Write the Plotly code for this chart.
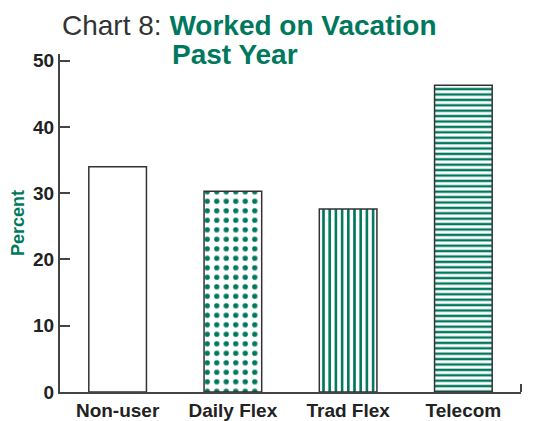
import plotly.graph_objects as go

categories = ["Non-user", "Daily Flex", "Trad Flex", "Telecom"]
values = [34.0, 30.3, 27.6, 46.3]
patterns = ["", ".", "|", "-"]
y_ticks = [0, 10, 20, 30, 40, 50]

GREEN = "#00785e"
FONT = "Liberation Sans, Arial, sans-serif"

fig = go.Figure()
fig.add_trace(go.Bar(
    x=categories,
    y=values,
    width=0.5,
    marker=dict(
        color="white",
        line=dict(color="#333333", width=1.5),
        pattern=dict(
            shape=patterns,
            fgcolor=GREEN,
            bgcolor="white",
            size=[8, 9.5, 6.2, 5.4],
            solidity=[0.3, 0.25, 0.42, 0.45],
            fillmode="replace",
        ),
    ),
    hoverinfo="skip",
))

# page body has an 8px margin, so the figure is drawn 8px in from the window corner
W, H = 531, 413
ml, mr, mt, mb = 52, 18, 46, 29
pw = W - ml - mr
ph = H - mt - mb

def px(xpx):
    return (xpx - ml) / pw

def py(ypx):
    return (H - mb - ypx) / ph

fig.update_layout(
    width=W, height=H,
    margin=dict(l=ml, r=mr, t=mt, b=mb, pad=0, autoexpand=False),
    paper_bgcolor="white", plot_bgcolor="white",
    showlegend=False,
    font=dict(family=FONT, color="#222222"),
    bargap=0.5,
)
fig.update_xaxes(
    automargin=False,
    showline=True, linecolor="#444444", linewidth=2,
    showgrid=False, ticks="",
    tickfont=dict(size=19, family=FONT, color="#222222", weight="bold"),
    range=[-0.5, 3.5],
)
fig.update_yaxes(
    automargin=False,
    range=[0, 51],
    tickvals=y_ticks,
    showline=True, linecolor="#444444", linewidth=2,
    showgrid=False, zeroline=False,
    ticks="inside", ticklen=10, tickwidth=2, tickcolor="#444444",
    tickfont=dict(size=19, family=FONT, color="#222222", weight="bold"),
    title=dict(text="Percent", font=dict(size=18, family=FONT, color=GREEN, weight="bold"), standoff=4),
)

fig.add_annotation(
    xref="paper", yref="paper", x=px(52), y=py(0),
    xanchor="left", yanchor="top", showarrow=False,
    text="<span style='color:#333333'>Chart 8: </span><b>Worked on Vacation</b>",
    font=dict(size=28, family=FONT, color=GREEN),
)
fig.add_annotation(
    xref="paper", yref="paper", x=px(162), y=py(46),
    xanchor="left", yanchor="middle", showarrow=False,
    text="<b>Past Year</b>",
    font=dict(size=28, family=FONT, color=GREEN),
)
fig.add_shape(type="line", xref="paper", yref="paper", x0=1, x1=1, y0=0, y1=py(376),
              line=dict(color="#444444", width=2))

fig.write_html("out.html")
